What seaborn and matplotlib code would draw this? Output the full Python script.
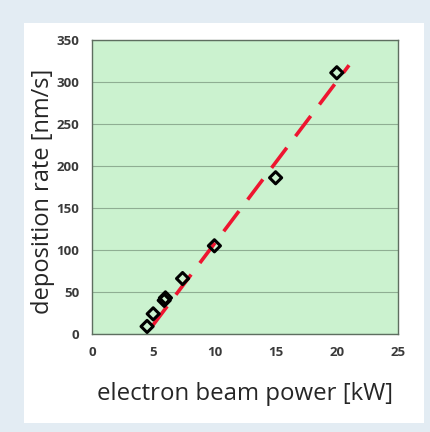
import matplotlib
matplotlib.use("Agg")
import matplotlib.pyplot as plt
import seaborn as sns
import pandas as pd
from matplotlib.patches import Rectangle

power_kw = [4.5, 5.0, 5.9, 6.0, 7.4, 10.0, 15.0, 20.0]
rate_nms = [9, 24, 40, 43, 66, 105, 186, 311]
fit_x = [4.9, 21.0]
fit_y = [9, 320]
x_ticks = [0, 5, 10, 15, 20, 25]
y_ticks = [0, 50, 100, 150, 200, 250, 300, 350]

sns.set_theme(style="white")
plt.rcParams['font.family'] = ['Open Sans', 'DejaVu Sans']

fig = plt.figure(figsize=(4.31, 4.32), dpi=100)
fig.patch.set_facecolor("#e3ecf3")
fig.patches.append(Rectangle((24/431, 1 - 423/432), (424-24)/431, (423-23)/432,
                             transform=fig.transFigure, facecolor="white",
                             edgecolor="none", zorder=-5))

ax = fig.add_axes([92/431, 1 - 334/432, (398-92)/431, (334-40)/432])
ax.set_zorder(2)
ax.set_facecolor("#cbf2cf")

df = pd.DataFrame({"power": power_kw, "rate": rate_nms})
fit = pd.DataFrame({"x": fit_x, "y": fit_y})

sns.lineplot(data=fit, x="x", y="y", ax=ax, color="#ee1530", linewidth=2.6,
             zorder=3)
ax.lines[-1].set_dashes([7, 4])
sns.scatterplot(data=df, x="power", y="rate", ax=ax, marker="D", s=38,
                facecolor="none", edgecolor="black", linewidth=2.2, zorder=4)

ax.set_xlim(0, 25)
ax.set_ylim(0, 350)
ax.set_xticks(x_ticks)
ax.set_yticks(y_ticks)
ax.yaxis.grid(True, color="#8fae93", linewidth=0.8)
ax.xaxis.grid(False)
ax.set_axisbelow(True)
for s in ax.spines.values():
    s.set_color("#5e6e60")
    s.set_linewidth(1.0)
ax.tick_params(axis="both", length=0, labelsize=9.5, labelcolor="#3a3a3a", pad=9)
for lab in ax.get_xticklabels() + ax.get_yticklabels():
    lab.set_fontweight("bold")

ax.set_xlabel("electron beam power [kW]", fontsize=17.3, color="#262626", labelpad=16)
ax.set_ylabel("deposition rate [nm/s]", fontsize=17, color="#262626")
ax.yaxis.set_label_coords(-0.12, 0.485)

fig.savefig("out.png", dpi=100, facecolor=fig.get_facecolor())
